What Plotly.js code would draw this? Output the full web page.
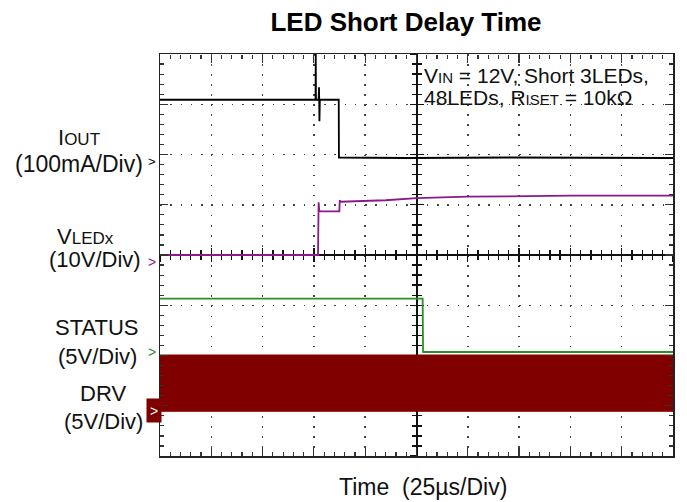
<!DOCTYPE html>
<html>
<head>
<meta charset="utf-8">
<script src="https://cdn.plot.ly/plotly-3.0.1.min.js"></script>
<style>
  html, body { margin: 0; padding: 0; background: #fff; }
  #chart { width: 687px; height: 502px; }
</style>
</head>
<body>
<div id="chart"></div>
<script>
// ---- Data (time in µs, 25 µs/div) ----
const iout_t   = [0, 30, 60, 75.8, 75.9, 76.0, 77.3, 77.5, 77.7, 77.9, 87.1, 87.2, 120, 170, 250];
const iout_mA  = [109, 109, 109, 109, 210, 109, 109, 134, 66, 109, 109, -6, -7, -6, -7];

const vled_t   = [0, 77.0, 77.3, 77.6, 78.2, 87.4, 87.6, 88.2, 95, 110, 125, 150, 200, 250];
const vled_V   = [0, 0, 10.5, 8.8, 8.7, 8.7, 10.9, 10.6, 10.7, 10.9, 11.3, 11.6, 11.8, 11.8];

const status_t = [0, 128.0, 128.2, 250];
const status_V = [5.3, 5.3, 0, 0];

const drv_t    = [0, 250];
const drv_low  = [-0.4, -0.4];
const drv_high = [5.2, 5.2];

// channel settings: units per division and zero-level position (in divisions from centre)
const chIout   = {perDiv: 100, zeroDiv: 2.0};
const chVled   = {perDiv: 10,  zeroDiv: 0.0};
const chStatus = {perDiv: 5,   zeroDiv: -1.93};
const chDrv    = {perDiv: 5,   zeroDiv: -3.03};

const FONT = 'Liberation Sans, Arial, Helvetica, sans-serif';
const L = 160, R = 14, T = 54, B = 46, WW = 687, HH = 502;
const PW = WW - L - R, PH = HH - T - B;
const px = x => (x - L) / PW;
const py = y => (HH - B - y) / PH;
const chRange = c => [(-4 - c.zeroDiv) * c.perDiv, (4 - c.zeroDiv) * c.perDiv];

const traces = [
  // base subplot (needed for overlaid axes)
  {x: [], y: [], xaxis: 'x', yaxis: 'y', mode: 'lines', showlegend: false, hoverinfo: 'skip'},
  // DRV band (fast switching shown as filled envelope)
  {x: drv_t, y: drv_low, yaxis: 'y7', mode: 'lines', line: {color: '#800000', width: 1},
   hoverinfo: 'skip', showlegend: false},
  {x: drv_t, y: drv_high, yaxis: 'y7', mode: 'lines', line: {color: '#800000', width: 1},
   fill: 'tonexty', fillcolor: '#800000', hoverinfo: 'skip', showlegend: false},
  {x: status_t, y: status_V, yaxis: 'y6', mode: 'lines', line: {color: '#2a8f2a', width: 1.8},
   hoverinfo: 'skip', showlegend: false},
  {x: vled_t, y: vled_V, yaxis: 'y5', mode: 'lines', line: {color: '#8a1a8a', width: 1.8},
   hoverinfo: 'skip', showlegend: false},
  {x: iout_t, y: iout_mA, yaxis: 'y4', mode: 'lines', line: {color: '#000000', width: 1.8},
   hoverinfo: 'skip', showlegend: false},
  // empty traces to create the centre crosshair and border tick axes
  {x: [], y: [], xaxis: 'x2', yaxis: 'y', showlegend: false, hoverinfo: 'skip'},
  {x: [], y: [], xaxis: 'x3', yaxis: 'y', showlegend: false, hoverinfo: 'skip'},
  {x: [], y: [], xaxis: 'x4', yaxis: 'y', showlegend: false, hoverinfo: 'skip'},
  {x: [], y: [], xaxis: 'x', yaxis: 'y2', showlegend: false, hoverinfo: 'skip'},
  {x: [], y: [], xaxis: 'x', yaxis: 'y3', showlegend: false, hoverinfo: 'skip'},
  {x: [], y: [], xaxis: 'x', yaxis: 'y8', showlegend: false, hoverinfo: 'skip'}
];

const xr = [0, 250], yr = [-4, 4];
const crossX = (ticks) => ({
  overlaying: 'x', anchor: 'free', position: 0.5, range: xr, showgrid: false, zeroline: false,
  showticklabels: false, showline: true, linecolor: '#111', linewidth: 2,
  ticks: ticks, dtick: 25, tick0: 0, ticklen: 6, tickwidth: 1.3, tickcolor: '#111',
  minor: {dtick: 5, ticklen: 4, tickwidth: 1.3, tickcolor: '#111', ticks: ticks, showgrid: false},
  layer: 'below traces', fixedrange: true
});
const crossY = (ticks) => ({
  overlaying: 'y', anchor: 'free', position: 0.5, range: yr, showgrid: false, zeroline: false,
  showticklabels: false, showline: true, linecolor: '#111', linewidth: 2,
  ticks: ticks, dtick: 1, tick0: 0, ticklen: 6, tickwidth: 1.3, tickcolor: '#111',
  minor: {dtick: 0.2, ticklen: 4, tickwidth: 1.3, tickcolor: '#111', ticks: ticks, showgrid: false},
  layer: 'below traces', fixedrange: true
});
const chanAxis = (c) => ({overlaying: 'y', anchor: 'x', range: chRange(c), visible: false, showgrid: false, fixedrange: true});

const labelFont = {family: FONT, size: 22, color: '#111'};
const ann = (x, y, text, extra) => Object.assign({
  xref: 'paper', yref: 'paper', x: px(x), y: py(y), text: text, showarrow: false,
  xanchor: 'center', yanchor: 'middle', font: labelFont
}, extra || {});

const sub = (s, n) => '<span style="font-size:' + n + 'px">' + s + '</span>';

const annotations = [
  ann(79, 137, 'I' + sub('OUT', 17)),
  ann(79, 164, '(100mA/Div)', {font: {family: FONT, size: 23, color: '#111'}}),
  ann(85, 236, 'V' + sub('LEDx', 17)),
  ann(95, 259, '(10V/Div)'),
  ann(97, 327, 'STATUS'),
  ann(97, 356, '(5V/Div)'),
  ann(103, 393, 'DRV'),
  ann(103, 421, '(5V/Div)'),
  // channel markers
  ann(152, 161, '&gt;', {font: {family: FONT, size: 13, color: '#000'}}),
  ann(152, 262, '&gt;', {font: {family: FONT, size: 14, color: '#8a1a8a'}}),
  ann(152, 352, '&gt;', {font: {family: FONT, size: 14, color: '#2a8f2a'}}),
  ann(153.5, 410, '&gt;', {font: {family: FONT, size: 14, color: '#ffffff'}, bgcolor: '#800000',
       borderpad: 3, width: 8, height: 17}),
  // condition text
  ann(422, 75, 'V' + sub('IN', 15) + ' = 12V, Short 3LEDs,', {xanchor: 'left', font: {family: FONT, size: 21, color: '#111'}}),
  ann(422, 97, '48LEDs, R' + sub('ISET', 15) + ' = 10kΩ', {xanchor: 'left', font: {family: FONT, size: 21, color: '#111'}}),
  // x title
  ann(423, 487, 'Time\u00a0\u00a0(25µs/Div)', {font: {family: FONT, size: 23, color: '#111'}})
];

const borderTicks = {ticklen: 8, tickwidth: 1.2, tickcolor: '#333', ticks: 'inside'};
const minorTicks = {ticklen: 4, tickwidth: 1.2, tickcolor: '#333', ticks: 'inside', showgrid: false};

const layout = {
  width: WW, height: HH,
  margin: {l: L, r: R, t: T, b: B},
  paper_bgcolor: '#ffffff', plot_bgcolor: '#ffffff',
  showlegend: false,
  title: {text: 'LED Short Delay Time', font: {family: FONT, size: 26, color: '#000', weight: 'bold'},
          x: 406 / WW, xanchor: 'center', xref: 'container', y: 1 - 22 / HH, yanchor: 'middle', yref: 'container'},
  xaxis: Object.assign({
    range: xr, showticklabels: false, zeroline: false,
    showgrid: true, gridcolor: '#444', gridwidth: 1.5, griddash: '1.5px,8.56px',
    showline: true, linecolor: '#222', linewidth: 1.5, mirror: true,
    dtick: 25, tick0: 0,
    minor: Object.assign({dtick: 5}, minorTicks),
    fixedrange: true
  }, borderTicks),
  yaxis: Object.assign({
    range: yr, showticklabels: false, zeroline: false,
    showgrid: true, gridcolor: '#444', gridwidth: 1.5, griddash: '1.5px,8.76px',
    showline: true, linecolor: '#222', linewidth: 1.5, mirror: true,
    dtick: 1, tick0: 0,
    minor: Object.assign({dtick: 0.2}, minorTicks),
    fixedrange: true
  }, borderTicks),
  // top border ticks
  xaxis4: Object.assign({
    overlaying: 'x', anchor: 'free', position: 1, side: 'top', range: xr, showgrid: false, zeroline: false,
    showticklabels: false, showline: false, dtick: 25, tick0: 0,
    minor: Object.assign({dtick: 5}, minorTicks), fixedrange: true
  }, borderTicks),
  // right border ticks
  yaxis8: Object.assign({
    overlaying: 'y', anchor: 'free', position: 1, side: 'right', range: yr, showgrid: false, zeroline: false,
    showticklabels: false, showline: false, dtick: 1, tick0: 0,
    minor: Object.assign({dtick: 0.2}, minorTicks), fixedrange: true
  }, borderTicks),
  xaxis2: crossX('outside'),
  xaxis3: crossX('inside'),
  yaxis2: crossY('outside'),
  yaxis3: crossY('inside'),
  yaxis4: chanAxis(chIout),
  yaxis5: chanAxis(chVled),
  yaxis6: chanAxis(chStatus),
  yaxis7: chanAxis(chDrv),
  annotations: annotations
};

Plotly.newPlot('chart', traces, layout, {staticPlot: true, displayModeBar: false});
</script>
</body>
</html>
